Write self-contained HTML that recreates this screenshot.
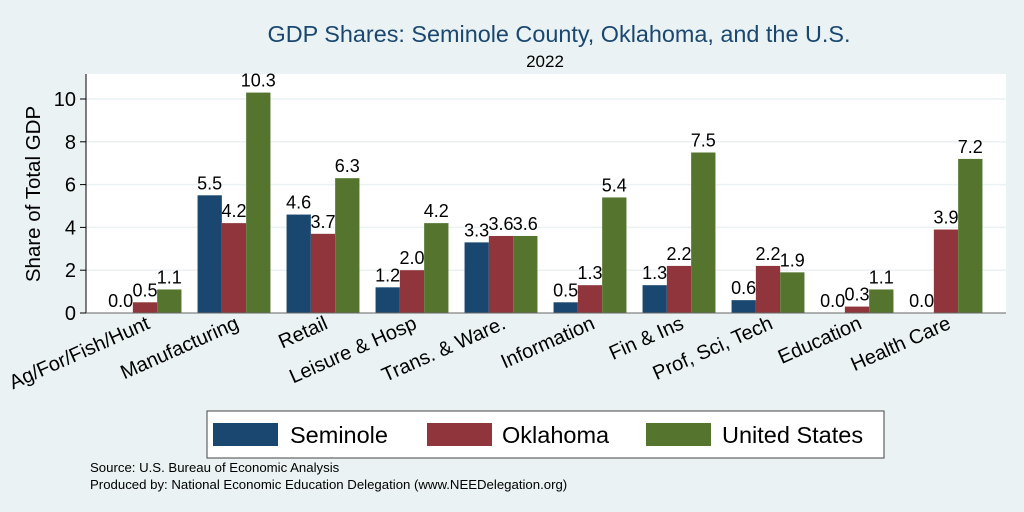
<!DOCTYPE html>
<html><head><meta charset="utf-8"><style>
body{margin:0;background:#eaf2f3;}
svg{display:block;font-family:"Liberation Sans",sans-serif;}
</style></head><body>
<svg id="chart" width="1024" height="512">
<rect x="0" y="0" width="1024" height="512" fill="#eaf2f3"/>
<text x="559" y="42" text-anchor="middle" font-size="23.4" fill="#1a476f">GDP Shares: Seminole County, Oklahoma, and the U.S.</text>
<text x="545" y="67" text-anchor="middle" font-size="17" fill="#000">2022</text>
<rect x="86" y="74" width="920" height="239" fill="#fff"/>
<g id="grid"></g><g id="bars"></g><g id="axes"></g>
<text transform="translate(40,194) rotate(-90)" text-anchor="middle" font-size="20.5">Share of Total GDP</text>
<g>
<rect x="207" y="411" width="677" height="47" fill="#fff" stroke="#444" stroke-width="1"/>
<rect x="213" y="423" width="65" height="23" fill="#1a476f"/>
<text x="290" y="443" font-size="23.5">Seminole</text>
<rect x="427" y="423" width="65" height="23" fill="#90353b"/>
<text x="502" y="443" font-size="23.5">Oklahoma</text>
<rect x="646" y="423" width="65" height="23" fill="#55752f"/>
<text x="722" y="443" font-size="23.5">United States</text>
</g>
<text x="90" y="472" font-size="13.2">Source: U.S. Bureau of Economic Analysis</text>
<text x="90" y="489" font-size="13.2">Produced by: National Economic Education Delegation (www.NEEDelegation.org)</text>
</svg>
<script>
const categories=["Ag/For/Fish/Hunt","Manufacturing","Retail","Leisure & Hosp","Trans. & Ware.","Information","Fin & Ins","Prof, Sci, Tech","Education","Health Care"];
const seminole=[0.0,5.5,4.6,1.2,3.3,0.5,1.3,0.6,0.0,0.0];
const oklahoma=[0.5,4.2,3.7,2.0,3.6,1.3,2.2,2.2,0.3,3.9];
const us=[1.1,10.3,6.3,4.2,3.6,5.4,7.5,1.9,1.1,7.2];
const yTicks=[0,2,4,6,8,10];
const NS="http://www.w3.org/2000/svg";
const y0=313,pxU=21.4,x0=145,step=89,bw=24.3;
const ys=v=>y0-v*pxU;
const xc=i=>x0+i*step;
function mk(t,a,p){const e=document.createElementNS(NS,t);for(const k in a)e.setAttribute(k,a[k]);p.appendChild(e);return e;}
const grid=document.getElementById('grid'),bars=document.getElementById('bars'),axes=document.getElementById('axes');
yTicks.forEach(t=>{
 if(t>0){const g=mk('line',{x1:86,x2:1006,y1:ys(t),y2:ys(t),stroke:'#eaf2f3','stroke-width':1.5},grid);
 
 }
 const tk=mk('line',{x1:80,x2:86,y1:ys(t),y2:ys(t),stroke:'#000'},axes);
 
 
 const l=mk('text',{x:76,y:ys(t)+7,'text-anchor':'end','font-size':20},axes);l.textContent=t;
 
 
});
const series=[[seminole,'#1a476f','seminole'],[oklahoma,'#90353b','oklahoma'],[us,'#55752f','us']];
categories.forEach((c,i)=>{
 series.forEach(([arr,col,nm],s)=>{
  const v=arr[i],x=xc(i)+(s-1.5)*bw;
  const r=mk('rect',{x:x,y:ys(v),width:bw,height:Math.max(v*pxU,0.01),fill:col},bars);
  
  
  const t=mk('text',{x:x+bw/2,y:ys(v)-6,'text-anchor':'middle','font-size':18},bars);t.textContent=v.toFixed(1);
  
  
 });
 const lb=mk('text',{transform:`translate(${xc(i)+6},${328}) rotate(-24)`,'text-anchor':'end','font-size':20},axes);lb.textContent=c;
 
 
});
const ya=mk('line',{x1:86,x2:86,y1:74,y2:313,stroke:'#000'},axes);


const xa=mk('line',{x1:86,x2:1006,y1:313,y2:313,stroke:'#666'},axes);


</script>
</body></html>
